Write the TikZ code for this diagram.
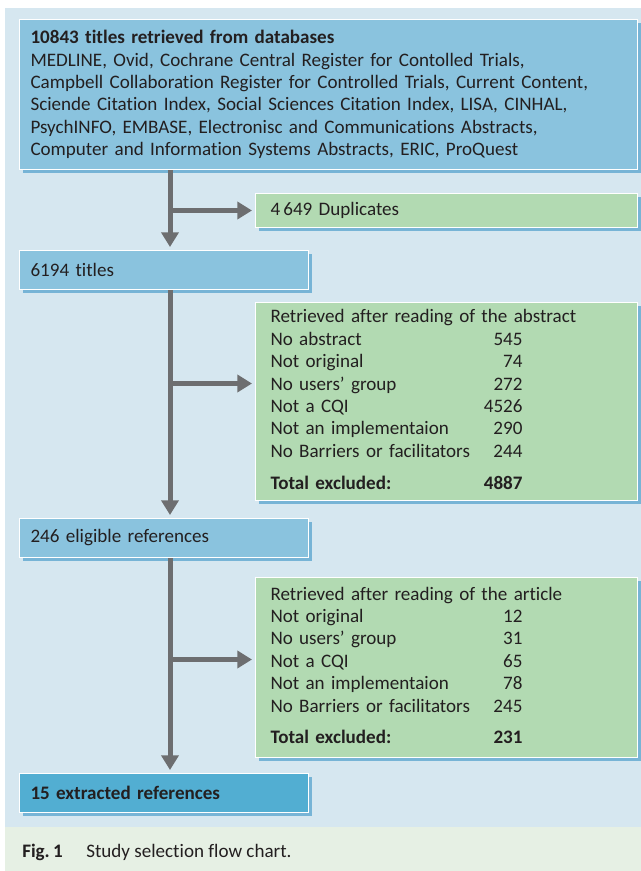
\documentclass[tikz,border=0pt]{standalone}
\usepackage{fontspec}
\setmainfont[Ligatures=NoCommon]{Carlito}
\usepackage{array}
\usepackage{xcolor}
\usetikzlibrary{arrows.meta,positioning,shadows}

\definecolor{panelblue}{RGB}{214,231,240}
\definecolor{captiongreen}{RGB}{230,240,228}
\definecolor{boxblue}{RGB}{138,195,222}
\definecolor{deepblue}{RGB}{82,174,210}
\definecolor{boxgreen}{RGB}{178,218,178}
\definecolor{shadowblue}{RGB}{96,168,208}
\definecolor{arrowgray}{RGB}{109,110,112}
\definecolor{inkgray}{RGB}{35,31,32}

\tikzset{
  box/.style={draw=white, line width=0.75pt, anchor=north west, align=left,
              inner ysep=0pt, text=inkgray,
              font=\fontsize{14.3}{16.8}\selectfont,
              drop shadow={fill=shadowblue, opacity=0.8,
                           shadow xshift=2.25pt, shadow yshift=-2.25pt}},
  bluebox/.style={box, fill=boxblue, inner xsep=8.25pt},
  greenbox/.style={box, fill=boxgreen, inner xsep=11.25pt,
                   text width=264pt, minimum width=286.5pt},
  shortbox/.style={bluebox, text width=200.25pt, minimum width=216.75pt,
                   minimum height=29.25pt},
  flow/.style={draw=arrowgray, line width=3.75pt,
               -{Triangle[width=12.75pt,length=11pt]}, shorten >=2.25pt}
}

\begin{document}
\begin{tikzpicture}[x=0.75pt,y=-0.75pt]
  \useasboundingbox (0,0) rectangle (641,871);
  \fill[panelblue] (5,8) rectangle (641,827);
  \fill[captiongreen] (5,827) rectangle (641,871);

  % boxes
  \node[bluebox, text width=447pt, minimum width=463.5pt,
        minimum height=112.5pt] (databases) at (19,19)
        {\textbf{10843 titles retrieved from databases}\\
         MEDLINE, Ovid, Cochrane Central Register for Contolled Trials,\\
         Campbell Collaboration Register for Controlled Trials, Current Content,\\
         Sciende Citation Index, Social Sciences Citation Index, LISA, CINHAL,\\
         PsychINFO, EMBASE, Electronisc and Communications Abstracts,\\
         Computer and Information Systems Abstracts, ERIC, ProQuest};
  \node[greenbox, minimum height=25.5pt] (duplicates) at (255,193)
        {4\,649 Duplicates};
  \node[shortbox] (titles) at (19,250) {6194 titles};
  \node[greenbox, minimum height=148.5pt] (abstract) at (255,302)
        {\begin{tabular}{@{}p{152pt}@{}>{\raggedleft\arraybackslash}p{37pt}@{}}
          \multicolumn{2}{@{}l@{}}{Retrieved after reading of the abstract}\\
          No abstract & 545\\
          Not original & 74\\
          No users’ group & 272\\
          Not a CQI & 4526\\
          Not an implementaion & 290\\
          No Barriers or facilitators & 244\\[7pt]
          \textbf{Total excluded:} & \textbf{4887}
         \end{tabular}};
  \node[shortbox] (eligible) at (19,518) {246 eligible references};
  \node[greenbox, minimum height=135pt] (article) at (255,577)
        {\begin{tabular}{@{}p{152pt}@{}>{\raggedleft\arraybackslash}p{37pt}@{}}
          \multicolumn{2}{@{}l@{}}{Retrieved after reading of the article}\\
          Not original & 12\\
          No users’ group & 31\\
          Not a CQI & 65\\
          Not an implementaion & 78\\
          No Barriers or facilitators & 245\\[7pt]
          \textbf{Total excluded:} & \textbf{231}
         \end{tabular}};
  \node[shortbox, fill=deepblue] (extracted) at (19,773)
        {\textbf{15 extracted references}};

  % connectors
  \coordinate (trunk) at (170,0);
  \coordinate (absin) at ([yshift=13.5pt]abstract.west);
  \coordinate (artin) at ([yshift=6pt]article.west);
  \draw[flow] (databases.south -| trunk) -- (titles.north -| trunk);
  \draw[flow] (trunk |- duplicates.west) -- (duplicates.west);
  \draw[flow] (titles.south -| trunk) -- (eligible.north -| trunk);
  \draw[flow] (trunk |- absin) -- (absin);
  \draw[flow] (eligible.south -| trunk) -- (extracted.north -| trunk);
  \draw[flow] (trunk |- artin) -- (artin);

  % caption
  \node[anchor=base west, inner sep=0pt, text=inkgray,
        font=\fontsize{14.3}{16.8}\selectfont] (figlabel) at (22,857)
        {\textbf{Fig.\,1}};
  \node[anchor=base west, inner sep=0pt, text=inkgray,
        font=\fontsize{14.3}{16.8}\selectfont] (figtext) at (86,857)
        {Study selection flow chart.};
\end{tikzpicture}
\end{document}
